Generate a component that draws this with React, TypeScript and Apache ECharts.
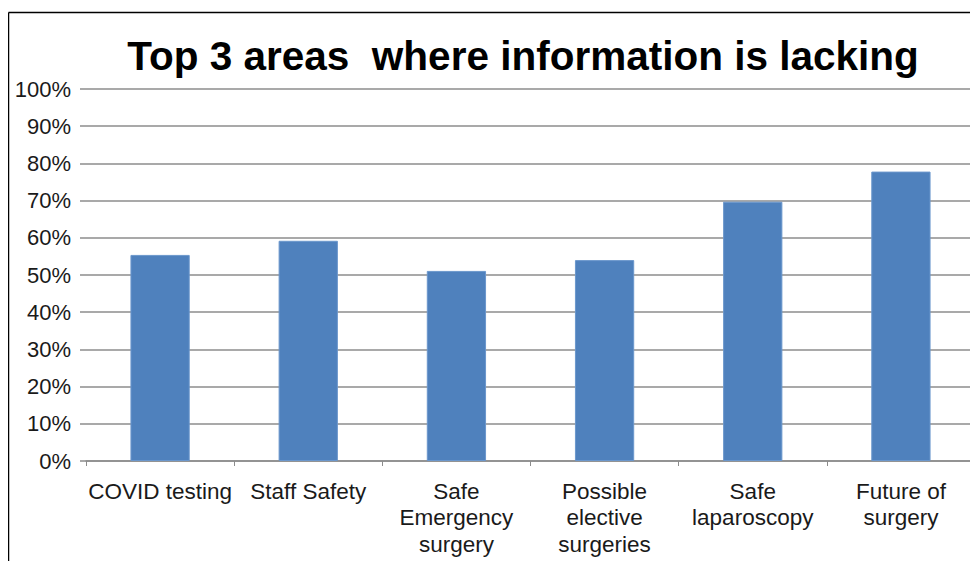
import React, { useEffect, useRef } from "react";
import * as echarts from "echarts";

const TITLE = "Top 3 areas  where information is lacking";
const categories = [
  "COVID testing",
  "Staff Safety",
  "Safe\nEmergency\nsurgery",
  "Possible\nelective\nsurgeries",
  "Safe\nlaparoscopy",
  "Future of\nsurgery",
];
const values = [55.4, 59.2, 51.1, 54.0, 69.7, 77.8];
const yTicks = { min: 0, max: 100, interval: 10 };

export default function App() {
  const ref = useRef<HTMLDivElement>(null);
  useEffect(() => {
    if (!ref.current) return;
    const chart = echarts.init(ref.current, null, { renderer: "svg" });
    const font = "'Liberation Sans', Arial, sans-serif";
    chart.setOption({
      animation: false,
      backgroundColor: "#ffffff",
      title: {
        text: TITLE,
        left: 510,
        textAlign: "center",
        top: 22,
        textStyle: { fontFamily: font, fontSize: 40.5, fontWeight: "bold", color: "#000" },
      },
      graphic: [
        { type: "line", shape: { x1: 0.5, y1: 4.5, x2: 970, y2: 4.5 }, style: { stroke: "#000", lineWidth: 1.5 } },
        { type: "line", shape: { x1: 0.5, y1: 4.5, x2: 0.5, y2: 553 }, style: { stroke: "#000", lineWidth: 1.5 } },
      ],
      grid: { left: 78, right: 3, top: 81, bottom: 100, containLabel: false },
      xAxis: {
        type: "category",
        data: categories,
        axisLine: { show: true, lineStyle: { color: "#8c8c8c", width: 1.5 } },
        axisTick: { show: true, length: 5, lineStyle: { color: "#8c8c8c" } },
        axisLabel: {
          interval: 0,
          margin: 17,
          fontFamily: font,
          fontSize: 22.5,
          lineHeight: 26.5,
          color: "#1a1a1a",
        },
      },
      yAxis: {
        type: "value",
        min: yTicks.min,
        max: yTicks.max,
        interval: yTicks.interval,
        axisLine: { show: false },
        axisTick: { show: true, length: 6, lineStyle: { color: "#8c8c8c", width: 1.5 } },
        splitLine: { show: true, lineStyle: { color: "#8c8c8c", width: 1.5 } },
        axisLabel: {
          margin: 15,
          fontFamily: font,
          fontSize: 22,
          color: "#1a1a1a",
          formatter: (v: number) => `${v}%`,
        },
      },
      series: [
        {
          type: "bar",
          data: values,
          barWidth: "40%",
          itemStyle: { color: "#4f81bd", borderColor: "#6b97cc", borderWidth: 1 },
        },
      ],
    });
    return () => chart.dispose();
  }, []);
  return <div ref={ref} style={{ width: 970, height: 553 }} />;
}
